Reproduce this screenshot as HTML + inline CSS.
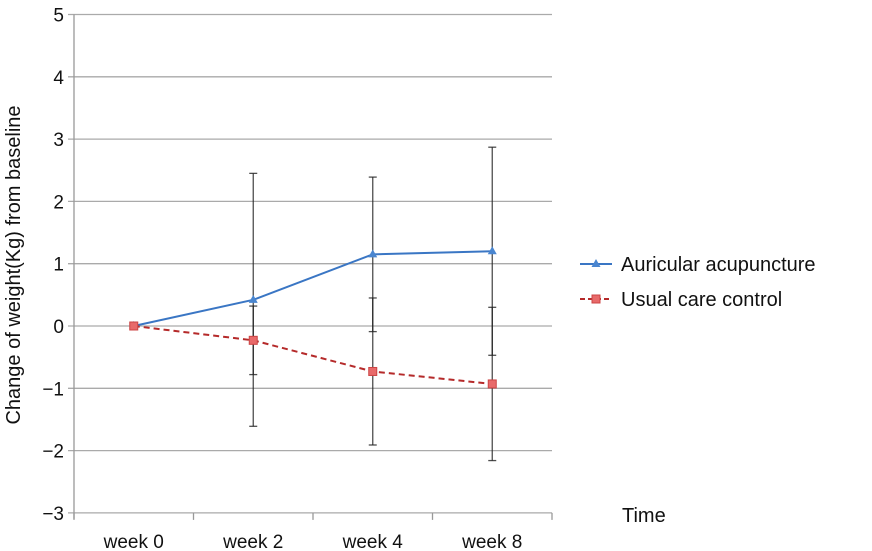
<!DOCTYPE html>
<html><head><meta charset="utf-8"><style>
body{margin:0;background:#fff;}
svg{display:block;font-family:"Liberation Sans",Arial,sans-serif;}
</style></head><body>
<svg id="chart" width="872" height="551" viewBox="0 0 872 551" xmlns="http://www.w3.org/2000/svg">
<g id="grid"></g>
<g id="axes"></g>
<g id="series"></g>
<text transform="translate(20,265) rotate(-90)" text-anchor="middle" font-size="20" fill="#111">Change of weight(Kg) from baseline</text>
<text x="622" y="522" font-size="20" fill="#111">Time</text>
<g>
<g>
<line x1="580" y1="264" x2="612" y2="264" stroke="#3a76c4" stroke-width="2"/>
<path d="M596,259 L600.5,267 L591.5,267 Z" fill="#4a86d0"/>
<text x="621" y="271" font-size="20" fill="#111">Auricular acupuncture</text>
</g>
<g>
<line x1="580" y1="299" x2="612" y2="299" stroke="#b52a2a" stroke-width="2" stroke-dasharray="5,3"/>
<rect x="592" y="295" width="8" height="8" fill="#e86a6a" stroke="#c44" stroke-width="1"/>
<text x="621" y="306" font-size="20" fill="#111">Usual care control</text>
</g>
</g>
</svg>
<script>
const categories=["week 0","week 2","week 4","week 8"];
const yTicks=[5,4,3,2,1,0,-1,-2,-3];
const auricularMean=[0,0.42,1.15,1.2];
const auricularErr=[0,2.03,1.24,1.67];
const usualMean=[0,-0.23,-0.73,-0.93];
const usualErr=[0,0.55,1.18,1.23];

const NS="http://www.w3.org/2000/svg";
const L=74,R=552,y0px=326,unit=62.3;
const y=v=>y0px-v*unit;
const band=(R-L)/categories.length;
const x=i=>L+band*(i+0.5);
function mk(tag,attrs,parent){const e=document.createElementNS(NS,tag);for(const k in attrs)e.setAttribute(k,attrs[k]);parent.appendChild(e);return e;}
const grid=document.getElementById('grid'),axes=document.getElementById('axes'),series=document.getElementById('series');
yTicks.forEach(t=>{
 const g=mk('line',{x1:L-6,x2:R,y1:y(t),y2:y(t),stroke:'#aaa','stroke-width':1.3},grid);
 
 
 const tx=mk('text',{x:L-10,y:y(t)+7,'text-anchor':'end','font-size':19,fill:'#111'},axes);
 tx.textContent=t<0?'\u2212'+(-t):String(t);
 
 
});
mk('line',{x1:L,x2:L,y1:y(5),y2:y(-3)+6,stroke:'#999','stroke-width':1.3},axes);
for(let i=0;i<=categories.length;i++){
 mk('line',{x1:L+band*i,x2:L+band*i,y1:y(-3),y2:y(-3)+7,stroke:'#999','stroke-width':1.3},axes);
}
categories.forEach((c,i)=>{
 const t=mk('text',{x:x(i),y:548,'text-anchor':'middle','font-size':19,fill:'#111'},axes);
 t.textContent=c;
 
 
});
function errBars(mean,err,w,name){
 mean.forEach((m,i)=>{
  if(!err[i])return;
  const g=mk('g',{stroke:'#222','stroke-width':w,'stroke-opacity':0.8},series);
  
  
  mk('line',{x1:x(i),x2:x(i),y1:y(m+err[i]),y2:y(m-err[i])},g);
  mk('line',{x1:x(i)-4,x2:x(i)+4,y1:y(m+err[i]),y2:y(m+err[i])},g);
  mk('line',{x1:x(i)-4,x2:x(i)+4,y1:y(m-err[i]),y2:y(m-err[i])},g);
 });
}
errBars(auricularMean,auricularErr,1.3,'auricular');
errBars(usualMean,usualErr,1.3,'usual-care');
const pl1=mk('polyline',{points:auricularMean.map((v,i)=>x(i)+','+y(v)).join(' '),fill:'none',stroke:'#3a76c4','stroke-width':2},series);


const pl2=mk('polyline',{points:usualMean.map((v,i)=>x(i)+','+y(v)).join(' '),fill:'none',stroke:'#b52a2a','stroke-width':2,'stroke-dasharray':'6,4'},series);


auricularMean.forEach((v,i)=>{
 const p=mk('path',{d:`M${x(i)},${y(v)-5} L${x(i)+4.5},${y(v)+3} L${x(i)-4.5},${y(v)+3} Z`,fill:'#4a86d0'},series);
 
 
});
usualMean.forEach((v,i)=>{
 const r=mk('rect',{x:x(i)-4,y:y(v)-4,width:8,height:8,fill:'#e86a6a',stroke:'#c44','stroke-width':1},series);
 
 
});
</script>
</body></html>
